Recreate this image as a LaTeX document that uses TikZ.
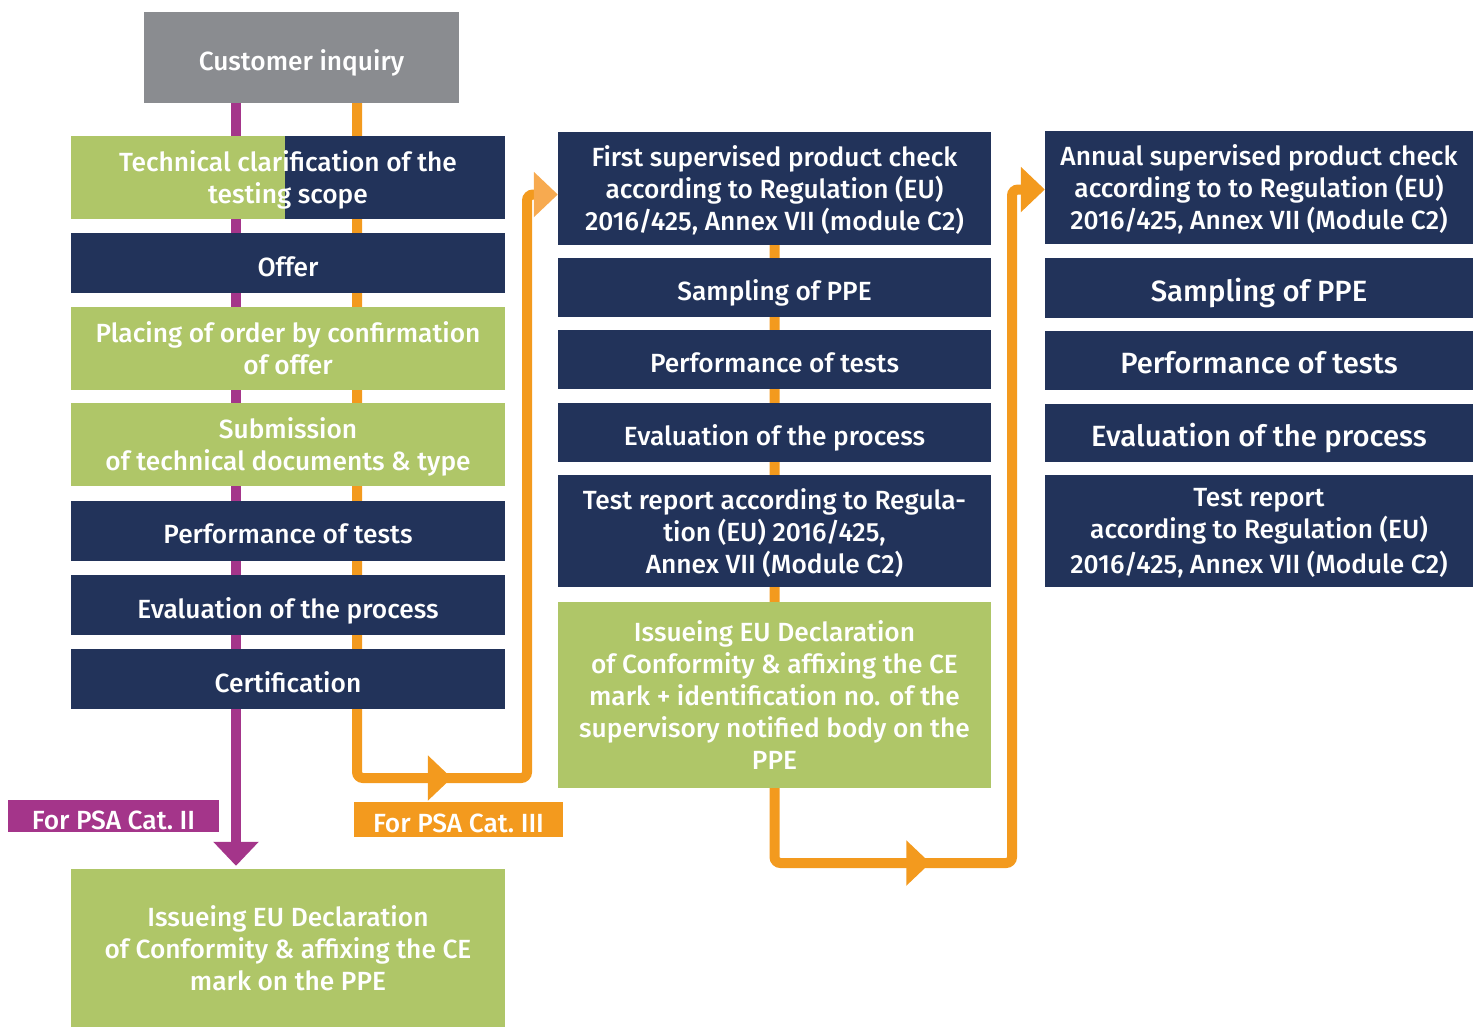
\documentclass[tikz,border=0pt]{standalone}
\usepackage{fontspec}
\setmainfont{Fira Sans}[BoldFont={Fira Sans Medium}]
\usetikzlibrary{arrows.meta,backgrounds,decorations.markings}
\setlength{\lineskiplimit}{-100pt}

\definecolor{navy}{RGB}{34,51,90}
\definecolor{pea}{RGB}{175,198,104}
\definecolor{slate}{RGB}{138,140,144}
\definecolor{plum}{RGB}{164,53,138}
\definecolor{amber}{RGB}{243,154,30}
\definecolor{amberlt}{RGB}{247,170,80}

\tikzset{
    box/.style={rectangle, minimum width=434pt, inner sep=0pt, text=white, align=center,
        font=\fontsize{26.3}{32}\selectfont\bfseries,
        text depth=0pt, execute at begin node={\rule{0pt}{26pt}}},
    navybox/.style={box, fill=navy},
    peabox/.style={box, fill=pea},
    lines/.style={execute at begin node={\rule{0pt}{32pt}}},
    bigtext/.style={font=\fontsize{29.3}{36}\selectfont\bfseries},
    flow/.style={line width=10pt},
    bigtip/.style={-{Triangle[length=24pt, width=44pt]}},
    midtip/.style={postaction={decorate}, decoration={markings,
        mark=at position #1 with {\arrow{Triangle[length=24pt, width=44pt]}}}}
}

\begin{document}
\begin{tikzpicture}[x=1pt, y=-1pt]
    \useasboundingbox (0,0) rectangle (1474,1028);

    % Nodes
    \node[box, fill=slate, minimum width=315pt, minimum height=91pt] at (301.5, 57.5) (inquiry) {Customer inquiry};

    \node[navybox, lines, minimum height=83pt,
        path picture={\fill[pea] (path picture bounding box.north west) rectangle ([xshift=-3pt]path picture bounding box.south);}]
        at (288, 177.5) (clar) {Technical clarification of the\\testing scope};
    \node[navybox, minimum height=60pt] at (288, 263)   (offer)  {Offer};
    \node[peabox, lines, minimum height=83pt] at (288, 348.5) (order)  {Placing of order by confirmation\\of offer};
    \node[peabox, lines, minimum height=83pt] at (288, 444.5) (submit) {Submission\\ of technical documents \& type};
    \node[navybox, minimum height=60pt] at (288, 530.5) (ltests) {Performance of tests};
    \node[navybox, minimum height=60pt] at (288, 605)   (leval)  {Evaluation of the process};
    \node[navybox, minimum height=60pt] at (288, 679)   (cert)   {Certification};
    \node[peabox, lines, minimum height=158pt] at (288, 948) (ldecl) {Issueing EU Declaration\\of Conformity \& affixing the CE\\mark on the PPE};

    \node[box, fill=plum,  minimum width=211pt, minimum height=32pt] at (113.5, 816)  (catII)  {For PSA Cat.\ II};
    \node[box, fill=amber, minimum width=209pt, minimum height=35pt] at (458.5, 819.5) (catIII) {For PSA Cat.\ III};

    \node[navybox, lines, minimum width=433pt, minimum height=113pt] at (774.5, 188.5) (first)   {First supervised product check\\according to Regulation (EU)\\2016/425, Annex VII (module C2)};
    \node[navybox, minimum width=433pt, minimum height=59pt]  at (774.5, 287.5) (msample) {Sampling of PPE};
    \node[navybox, minimum width=433pt, minimum height=59pt]  at (774.5, 359.5) (mtests)  {Performance of tests};
    \node[navybox, minimum width=433pt, minimum height=59pt]  at (774.5, 432.5) (meval)   {Evaluation of the process};
    \node[navybox, lines, minimum width=433pt, minimum height=112pt] at (774.5, 531)   (mreport) {Test report according to Regula-\\tion (EU) 2016/425,\\Annex VII (Module C2)};
    \node[peabox, lines, minimum width=433pt, minimum height=186pt]  at (774.5, 695)   (mdecl)   {Issueing EU Declaration\\of Conformity \& affixing the CE\\mark + identification no. of the\\supervisory notified body on the\\PPE};

    \node[navybox, lines, minimum width=428pt, minimum height=113pt] at (1259, 187.5) (annual)  {Annual supervised product check\\according to to Regulation (EU)\\2016/425, Annex VII (Module C2)};
    \node[navybox, bigtext, minimum width=428pt, minimum height=60pt] at (1259, 288)   (rsample) {Sampling of PPE};
    \node[navybox, bigtext, minimum width=428pt, minimum height=59pt] at (1259, 360.5) (rtests)  {Performance of tests};
    \node[navybox, bigtext, minimum width=428pt, minimum height=58pt] at (1259, 433)   (reval)   {Evaluation of the process};
    \node[navybox, lines, minimum width=428pt, minimum height=112pt] at (1259, 531)   (rreport) {Test report\\according to Regulation (EU)\\[3pt]2016/425, Annex VII (Module C2)};

    \coordinate (bendIII) at (527, 778);
    \coordinate (bendC)   at (1012, 863);

    % Connectors
    \begin{scope}[on background layer]
        \draw[flow, plum, bigtip] ([xshift=-65.5pt]inquiry.south) -- ([xshift=-52pt, yshift=3pt]ldecl.north);

        \draw[flow, amber, rounded corners=6pt, midtip=767pt,
            -{Triangle[length=24pt, width=44pt, color=amberlt]}]
            ([xshift=55.5pt]inquiry.south) |- (bendIII) |- ([yshift=-6pt]first.west);

        \draw[flow, amber, rounded corners=6pt, midtip=771pt, bigtip]
            (first.south) |- (bendC) |- ([yshift=-2pt]annual.west);
    \end{scope}
\end{tikzpicture}
\end{document}
